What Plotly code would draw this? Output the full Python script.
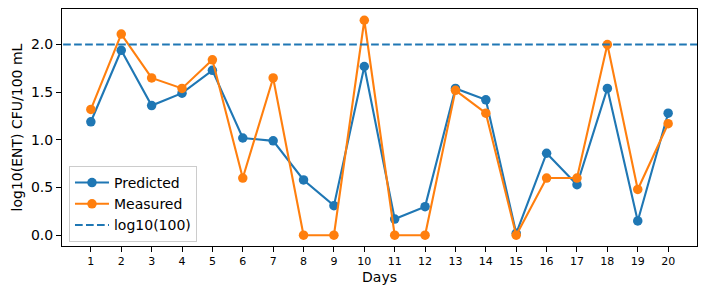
import plotly.graph_objects as go

days = list(range(1, 21))
predicted = [1.19, 1.94, 1.36, 1.49, 1.73, 1.02, 0.99, 0.58, 0.31, 1.77,
             0.17, 0.30, 1.54, 1.42, 0.02, 0.86, 0.53, 1.54, 0.15, 1.28]
measured = [1.32, 2.11, 1.65, 1.54, 1.84, 0.60, 1.65, 0.0, 0.0, 2.255,
            0.0, 0.0, 1.52, 1.28, 0.0, 0.60, 0.60, 2.0, 0.48, 1.17]
threshold = 2.0  # log10(100)

blue = "#1f77b4"
orange = "#ff7f0e"
font = "DejaVu Sans"

fig = go.Figure()
fig.add_trace(go.Scatter(x=days, y=predicted, mode="lines+markers", name="Predicted",
                         line=dict(color=blue, width=2.1),
                         marker=dict(color=blue, size=9.5)))
fig.add_trace(go.Scatter(x=days, y=measured, mode="lines+markers", name="Measured",
                         line=dict(color=orange, width=2.1),
                         marker=dict(color=orange, size=9.5)))
fig.add_trace(go.Scatter(x=[days[0] - 2, days[-1] + 2], y=[threshold, threshold],
                         mode="lines", name="log10(100)",
                         line=dict(color=blue, width=2.1, dash="7.7px,3.3px")))

fig.update_layout(
    width=706, height=297,
    margin=dict(l=62, r=9, t=9, b=51),
    paper_bgcolor="white", plot_bgcolor="white",
    font=dict(family=font, size=14, color="black"),
    showlegend=True,
    legend=dict(x=0.011, y=0.017, xanchor="left", yanchor="bottom",
                bgcolor="rgba(255,255,255,0.8)", bordercolor="#cccccc", borderwidth=1,
                font=dict(size=14), tracegroupgap=0, itemwidth=34),
)
fig.update_xaxes(range=[0.05, 20.95], tickvals=days, ticktext=[str(d) for d in days],
                 tickfont=dict(size=11), showgrid=False, zeroline=False, automargin=False,
                 showline=True, linecolor="black", linewidth=1, mirror=True,
                 ticks="outside", ticklen=5, tickwidth=1, tickcolor="black",
                 title=dict(text="Days", font=dict(size=14), standoff=4))
fig.update_yaxes(range=[-0.113, 2.373], tickvals=[0, 0.5, 1.0, 1.5, 2.0],
                 ticktext=["0.0", "0.5", "1.0", "1.5", "2.0"],
                 tickfont=dict(size=14), showgrid=False, zeroline=False, automargin=False,
                 showline=True, linecolor="black", linewidth=1, mirror=True,
                 ticks="outside", ticklen=5, tickwidth=1, tickcolor="black",
                 title=dict(text="log10(ENT) CFU/100 mL", font=dict(size=14), standoff=5))

fig.write_html("out.html", config={"displayModeBar": False},
               post_script="document.body.style.margin='0';")
